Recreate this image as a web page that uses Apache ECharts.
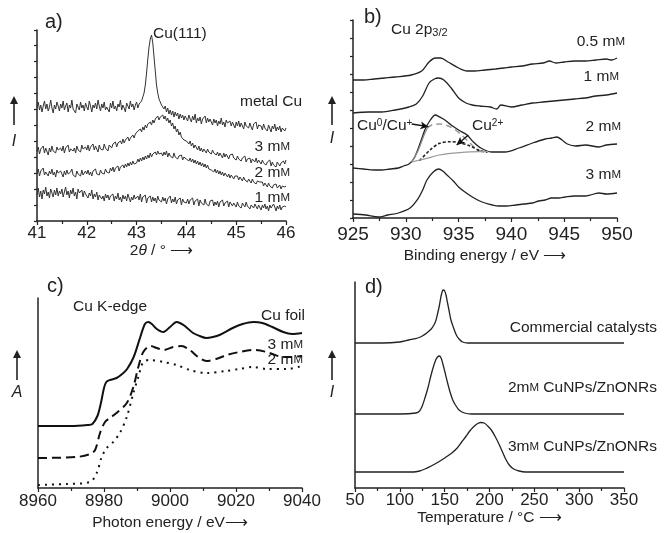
<!DOCTYPE html>
<html><head><meta charset="utf-8">
<script src="https://cdn.jsdelivr.net/npm/echarts@6/dist/echarts.min.js"></script>
<style>html,body{margin:0;padding:0;background:#fff}#c{width:664px;height:533px}</style>
</head><body><div id="c"></div>
<script>
// ---------- Panel a: XRD (2θ from 41 to 46, step 0.025) ----------
const xrdStart = 41, xrdStep = 0.025;
const xrdMetalCu = [97,103,95,100,93,99,104,96,101,94,98,105,97,92,100,96,103,99,94,101,
  97,104,95,99,102,93,100,97,105,96,98,92,101,99,95,103,97,100,94,102,
  98,95,104,99,93,100,97,102,96,105,99,94,101,97,103,95,98,100,93,102,
  97,104,96,99,94,101,98,105,95,100,97,93,102,99,96,104,98,101,95,100,
  103,97,101,99,104,106,112,120,132,146,158,166,170,162,148,134,120,112,106,103,100,
  101,96,99,93,97,91,95,90,94,88,93,89,92,86,91,87,90,85,89,88,
  84,90,86,83,89,85,91,82,87,84,88,81,86,85,89,82,87,83,86,84,
  80,86,82,85,79,84,81,87,80,83,78,85,82,80,84,79,83,81,77,83,
  79,84,78,82,80,76,83,79,81,77,82,78,75,81,79,83,76,80,78,79,
  75,81,77,79,74,80,78,73,79,76,81,74,78,75,79,73,77,76,74,77];
const xrd3mM = [53,58,51,56,54,59,52,57,55,50,57,53,59,54,56,52,58,55,53,57,
  54,59,52,57,55,60,53,56,58,54,57,52,59,55,57,53,60,56,54,58,
  55,60,54,58,56,61,55,59,57,53,60,56,58,55,61,57,59,54,60,58,
  57,61,59,63,58,62,60,64,61,66,62,65,63,68,64,67,66,70,67,71,
  70,74,72,76,73,78,75,80,77,81,79,83,80,85,82,86,84,89,85,88,
  87,90,86,89,84,87,82,85,79,82,76,79,73,76,70,73,68,70,65,67,
  64,66,61,64,59,62,57,60,58,55,59,54,57,53,56,55,52,56,53,55,
  51,55,52,54,50,53,49,52,50,47,52,48,51,49,46,50,48,51,47,49,
  45,49,46,48,44,47,45,49,43,46,44,47,42,46,45,43,47,42,45,44,
  41,45,42,44,40,43,41,45,39,43,40,42,38,43,41,39,42,40,44,41,45];
const xrd2mM = [31,36,29,34,32,37,30,33,35,29,34,31,36,30,33,28,35,32,30,34,
  32,28,34,30,35,31,29,33,36,30,32,28,34,31,33,29,35,30,32,34,
  31,35,30,33,29,34,32,36,31,33,30,35,32,34,31,36,33,35,32,37,
  34,38,33,37,35,39,34,38,36,40,37,41,38,42,39,43,40,44,41,43,
  42,46,43,47,44,48,45,49,46,50,47,52,48,51,49,53,50,54,51,53,
  52,49,53,50,54,48,52,49,51,47,52,48,50,46,49,47,50,45,48,47,
  46,48,44,47,43,46,42,45,41,44,40,43,39,42,38,41,37,40,36,38,
  35,37,33,36,32,35,31,34,30,33,29,32,30,28,31,27,30,28,26,29,
  27,29,25,28,26,24,28,25,27,23,26,24,22,26,23,25,21,24,22,23,
  21,23,19,22,20,18,22,19,21,17,20,18,21,17,19,20,16,19,17,18,19];
const xrd1mM = [10,17,8,14,6,15,11,18,9,13,7,16,12,8,15,10,17,9,14,11,
  16,8,13,18,10,14,7,15,11,17,9,13,6,16,12,10,15,8,14,11,
  13,7,12,9,15,6,11,8,13,5,10,12,6,9,4,11,7,10,5,9,
  7,11,4,9,6,12,5,8,3,10,6,9,4,11,7,3,8,5,10,6,
  4,9,5,11,3,8,6,10,2,7,5,9,3,8,4,7,2,9,5,6,
  3,8,4,7,1,6,5,9,2,6,3,8,1,5,4,7,0,6,3,5,
  2,6,1,5,3,7,0,4,2,6,-1,5,2,4,0,6,1,3,-1,4,
  2,5,-1,3,0,4,-2,3,1,5,-1,2,0,4,-2,3,1,-1,2,0,
  -2,3,-1,1,-3,2,0,-2,3,-1,1,-4,0,2,-3,1,-1,-4,0,-2,
  -5,0,-3,1,-4,-1,-6,0,-3,-5,1,-2,-6,-1,-4,0,-5,-2,-3,-1,-2];

// ---------- Panel b: XPS Cu 2p3/2 [binding energy, intensity] ----------
const xps05 = [[925,138],[926,138],[927,139],[928,140],[929,141],[930.5,143],[931.5,147],[932.2,156],[932.8,160],[933.3,160],[934,156],[935,150],[935.8,147],[936.5,147],[937.5,148],[938.5,149],[939.3,150],[940,151],[941,152],[942,154],[943,155],[943.6,157],[944.2,155],[945,156],[946,157],[947,157],[948,158],[949,159],[949.5,158],[950,160]];
const xps1 = [[925,105],[926.5,106],[927.7,106],[929,108],[930.3,111],[931,114],[931.6,122],[932.2,135],[932.7,139],[933.1,140],[933.6,138],[934.3,130],[935,120],[935.7,115],[936.3,113],[937,112],[938,111],[938.6,109],[939,113],[940,111],[941,113],[942,115],[943,116],[944,117],[945,118],[946,119],[947,120],[948,122],[949,123],[950,125]];
const xps2 = [[925,50],[926,49],[927,48],[927.7,48],[928.5,49],[929.3,50],[929.8,52],[930.3,54],[930.8,60],[931.4,76],[931.8,88],[932.2,96],[932.8,103],[933.2,101],[933.7,98],[934.3,93],[935,88],[935.8,83],[936.4,76],[937.1,70],[938.1,66],[939.4,66],[940.7,70],[942,75],[943.2,79],[943.8,80],[944.3,81],[944.8,78],[945.3,74],[946.1,72],[947,73],[948.3,71],[949,73],[950,74]];
const xps3 = [[925,4],[926.2,3],[927.4,1],[928.3,3],[929.3,5],[930.4,10],[931.2,20],[931.6,28],[932,38],[932.6,46],[933.1,49],[933.5,47],[933.9,43],[934.5,37],[935,31],[935.6,26],[936.3,21],[937,17],[937.5,15],[938.2,13],[938.8,12],[939.5,12],[940.4,13],[941.2,14],[942,15],[942.6,17],[943.2,18],[943.8,20],[944.5,20],[945.1,21],[946,22],[947,22],[948.3,25],[949,24],[950,25]];
const xpsFitRise = [[930.56,56],[931.19,68],[931.66,81],[932.04,90]];
const xpsFitCu0 = [[932.04,90],[932.45,93],[933.2,94],[934.2,91.3],[935.1,84.7],[936.1,74.7],[936.7,68.7],[937.3,66.3],[937.8,65.8]];
const xpsFitCu2 = [[931.3,57.3],[932.3,68],[933.2,74.7],[934.2,76.3],[935.1,75.3],[936.1,72],[937,67.3],[937.7,65.7]];
const xpsFitBg = [[930.56,56],[932,59.7],[933.2,63],[935.1,65.3],[937,66.3],[937.8,66.3]];

// ---------- Panel c: XANES Cu K-edge [photon energy, absorbance] ----------
const xasFoil = [[8960,62],[8970,62],[8975,63],[8976.5,64],[8978,72],[8979,84],[8980,100],[8980.7,106],[8981.8,108],[8983.8,110],[8985.5,114],[8987,119],[8989,131],[8991,151],[8992.4,164],[8993.4,166],[8994.5,164],[8996,159],[8998,156],[9000,161],[9002,166],[9003,165],[9004.5,162],[9007,155],[9009,152],[9011,150],[9013,151],[9015,153],[9019,160],[9022,164],[9025.3,166],[9028,165],[9031,161],[9034.3,156],[9037,154],[9040,155]];
const xas3mM = [[8960,30],[8971.7,31],[8975.8,34],[8977.3,38],[8978.8,55],[8980.3,66],[8981.8,70],[8983.8,75],[8986.9,85],[8988.9,101],[8990.4,121],[8991.9,136],[8994,142],[8996,140],[8998,138],[9001,141],[9003.5,142],[9006,138],[9008.5,131],[9011,127],[9014,129],[9017.2,133],[9021,136],[9025.3,138],[9029.3,136],[9034.3,131],[9037,131],[9040,132]];
const xas2mM = [[8960,3],[8968.7,4],[8975.8,6],[8977.8,15],[8979.3,31],[8980.8,40],[8982.8,46],[8984.8,55],[8986.9,71],[8988.9,95],[8990.4,111],[8991.9,126],[8994,128],[8998,126],[9002,123],[9006,118],[9011,115],[9017,117],[9021,119],[9025.3,121],[9029.3,119],[9035.4,119],[9040,122]];

// ---------- Panel d: H2-TPR [temperature, intensity] ----------
const tprCommercial = [[50,145],[80,145],[100,146],[110,148],[120,150],[125,152],[130,155],[135,159],[138,163],[140,167],[142,174],[144,182],[146,192],[147.5,197],[148.5,198],[150,197],[151.5,193],[153,186],[155,177],[157,168],[160,160],[163,153],[166,149],[170,146],[176,145],[200,145],[350,145]];
const tpr2mM = [[50,74],[100,74],[118,75],[122,77],[125,82],[128,90],[131,99],[134,110],[137,120],[140,128],[142,131],[144,132],[146,130],[148,124],[150,117],[153,106],[156,96],[159,88],[162,83],[166,78],[172,75],[180,74],[350,74]];
const tpr3mM = [[50,16],[100,16],[115,16],[122,17],[128,19],[135,22],[143,26],[150,30],[158,35],[164,40],[169,46],[174,52],[178,57],[182,61],[186,64],[190,65.5],[194,65],[198,62],[202,58],[206,52],[210,45],[214,37],[218,29],[222,23],[227,19],[233,17],[240,16],[350,16]];

// ---------- chart ----------
const FONT = 'Liberation Sans';
const AX = '#222';
const chart = echarts.init(document.getElementById('c'), null, {renderer: 'canvas'});
const toXY = (arr) => arr.map((v, i) => [xrdStart + i * xrdStep, v]);

function xAx(gi, min, max, interval, name, nameGap, margin, fs, nameRich) {
  return {
    type: 'value', gridIndex: gi, min, max, interval,
    axisLine: {show: true, onZero: false, lineStyle: {color: AX, width: 1.5}},
    axisTick: {show: true, inside: false, length: 4, lineStyle: {color: AX, width: 1.2}},
    minorTick: {show: true, splitNumber: 2, length: 3, lineStyle: {color: AX, width: 1.2}},
    splitLine: {show: false}, minorSplitLine: {show: false},
    axisLabel: {color: AX, fontFamily: FONT, fontSize: fs, margin: margin, showMinLabel: true, showMaxLabel: true,
      formatter: (v) => String(v)},
    name: name, nameLocation: 'middle', nameGap: nameGap,
    nameTextStyle: {color: AX, fontFamily: FONT, fontSize: 15.5, rich: nameRich || {}}
  };
}
function yAx(gi, min, max, interval, ticks) {
  return {
    type: 'value', gridIndex: gi, min, max, interval,
    axisLine: {show: true, onZero: false, lineStyle: {color: AX, width: 1.5}},
    axisTick: {show: ticks, inside: false, length: 3, lineStyle: {color: AX, width: 1.2}},
    axisLabel: {show: false}, splitLine: {show: false}
  };
}
function line(xi, data, color, width, type, smooth, extra) {
  return Object.assign({
    type: 'line', xAxisIndex: xi, yAxisIndex: xi, data: data, showSymbol: false, symbol: 'none',
    smooth: smooth, silent: true, animation: false,
    lineStyle: {color: color, width: width, type: type}
  }, extra || {});
}

const baseRich = {
  sc: {fontSize: 11.5, fontFamily: FONT, fill: AX, color: AX},
  sup: {fontSize: 10, fontFamily: FONT, lineHeight: 6, verticalAlign: 'top', fill: AX, color: AX},
  sub: {fontSize: 11, fontFamily: FONT, lineHeight: 6, verticalAlign: 'bottom', fill: AX, color: AX}
};
function txt(text, x, y, align, size, italic) {
  return {
    type: 'text', silent: true,
    style: {
      text: text, x: x, y: y, fill: AX,
      fontSize: size || 15.5, fontFamily: FONT, fontStyle: italic ? 'italic' : 'normal',
      align: align, verticalAlign: 'middle', textAlign: align, textVerticalAlign: 'middle',
      rich: baseRich
    }
  };
}
function upArrow(x, yTail, yHead) {
  return [
    {type: 'line', silent: true, shape: {x1: x, y1: yTail, x2: x, y2: yHead + 6}, style: {stroke: AX, lineWidth: 1.6}},
    {type: 'polygon', silent: true, shape: {points: [[x - 4, yHead + 7], [x + 4, yHead + 7], [x, yHead - 1]]}, style: {fill: AX}}
  ];
}

const option = {
  animation: false,
  backgroundColor: '#fff',
  grid: [
    {left: 37, top: 30, width: 249, height: 191},
    {left: 353, top: 20, width: 264, height: 198},
    {left: 38, top: 298, width: 264, height: 190},
    {left: 355, top: 282, width: 269, height: 206}
  ],
  xAxis: [
    xAx(0, 41, 46, 1, '2{it|θ} / ° ⟶', 20, 4, 17, {it: {fontStyle: 'italic', fontFamily: FONT, fontSize: 15.5, color: AX}}),
    xAx(1, 925, 950, 5, 'Binding energy / eV ⟶', 30, 7, 19),
    xAx(2, 8960, 9040, 20, 'Photon energy / eV⟶', 27, 5, 17),
    xAx(3, 50, 350, 50, 'Temperature / °C ⟶', 21, 4, 17)
  ],
  yAxis: [
    yAx(0, -16, 175, 16, true),
    yAx(1, 0, 198, 18, true),
    yAx(2, 0, 190, 10, false),
    yAx(3, 0, 206, 10, false)
  ],
  series: [
    line(0, toXY(xrdMetalCu), '#333', 1, 'solid', false),
    line(0, toXY(xrd3mM), '#333', 1, 'solid', false),
    line(0, toXY(xrd2mM), '#333', 1, 'solid', false),
    line(0, toXY(xrd1mM), '#333', 1, 'solid', false),

    line(1, xps05, '#222', 1.3, 'solid', 0.3),
    line(1, xps1, '#222', 1.3, 'solid', 0.3),
    line(1, xps2, '#222', 1.3, 'solid', 0.3, {
      markLine: {
        silent: true, animation: false, symbol: ['none', 'arrow'], symbolSize: [6, 8],
        label: {show: false},
        lineStyle: {color: '#111', width: 1.3, type: 'solid'},
        data: [
          [{coord: [930.56, 94]}, {coord: [932.14, 91.3]}],
          [{coord: [935.92, 83]}, {coord: [934.82, 73]}]
        ]
      }
    }),
    line(1, xps3, '#222', 1.3, 'solid', 0.3),
    line(1, xpsFitRise, '#8a8a8a', 1.2, 'solid', 0.3),
    line(1, xpsFitCu0, '#9a9a9a', 1.5, [6, 4], 0.3),
    line(1, xpsFitCu2, '#222', 1.6, [3, 2], 0.3),
    line(1, xpsFitBg, '#9a9a9a', 1.2, 'solid', 0.3),

    line(2, xasFoil, '#111', 2, 'solid', 0.3),
    line(2, xas3mM, '#111', 2, [9, 5], 0.3),
    line(2, xas2mM, '#111', 2, [2, 5], 0.3),

    line(3, tprCommercial, '#222', 1.3, 'solid', 0.3),
    line(3, tpr2mM, '#222', 1.3, 'solid', 0.3),
    line(3, tpr3mM, '#222', 1.3, 'solid', 0.3)
  ],
  graphic: [
    // panel a
    txt('a)', 45, 22, 'left', 20),
    txt('Cu(111)', 153, 34, 'left'),
    txt('metal Cu', 302, 102, 'right'),
    txt('3 m{sc|M}', 290, 147, 'right'),
    txt('2 m{sc|M}', 290, 173, 'right'),
    txt('1 m{sc|M}', 290, 198, 'right'),
    ...upArrow(14, 125, 97),
    txt('I', 14, 142, 'center', 16, true),
    // panel b
    txt('b)', 364, 17, 'left', 20),
    txt('Cu 2p{sub|3/2}', 391, 30, 'left'),
    txt('0.5 m{sc|M}', 625, 42, 'right'),
    txt('1 m{sc|M}', 619, 77, 'right'),
    txt('2 m{sc|M}', 621, 127, 'right'),
    txt('3 m{sc|M}', 621, 175, 'right'),
    txt('Cu{sup|0}/Cu{sup|+}', 357, 126, 'left'),
    txt('Cu{sup|2+}', 472, 126, 'left'),
    ...upArrow(332, 125, 97),
    txt('I', 332, 139, 'center', 16, true),
    // panel c
    txt('c)', 47, 286, 'left', 20),
    txt('Cu K-edge', 73, 307, 'left'),
    txt('Cu foil', 305, 316, 'right'),
    txt('3 m{sc|M}', 303, 345, 'right'),
    txt('2 m{sc|M}', 303, 360, 'right'),
    ...upArrow(17, 380, 351),
    txt('A', 17, 393, 'center', 16, true),
    // panel d
    txt('d)', 365, 287, 'left', 20),
    txt('Commercial catalysts', 657, 328, 'right'),
    txt('2m{sc|M} CuNPs/ZnONRs', 657, 388, 'right'),
    txt('3m{sc|M} CuNPs/ZnONRs', 657, 447, 'right'),
    ...upArrow(332, 380, 351),
    txt('I', 332, 393, 'center', 16, true)
  ]
};
chart.setOption(option);
</script>
</body></html>
